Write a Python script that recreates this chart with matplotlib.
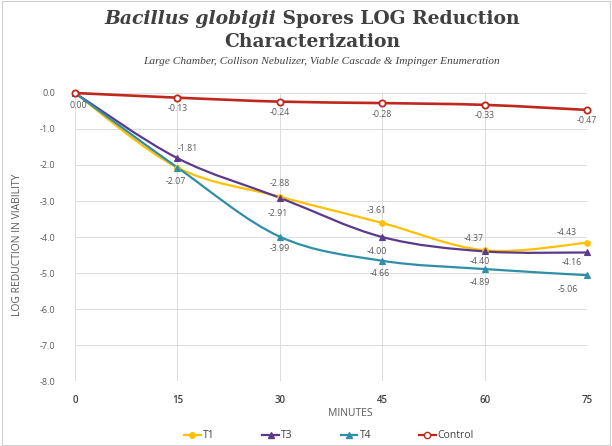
import numpy as np
import matplotlib
matplotlib.use("Agg")
import matplotlib.pyplot as plt
from matplotlib.path import Path
from matplotlib.patches import PathPatch, Rectangle
from matplotlib.lines import Line2D

minutes = [0, 15, 30, 45, 60, 75]
t1 = [0.00, -2.07, -2.88, -3.61, -4.37, -4.16]
t3 = [0.00, -1.81, -2.91, -4.00, -4.40, -4.43]
t4 = [0.00, -2.07, -3.99, -4.66, -4.89, -5.06]
control = [0.00, -0.13, -0.24, -0.28, -0.33, -0.47]

# label offsets in pixels (dx, dy); None = no label
t1_off = [None, None, (0, 13), (-6, 12), (-11, 12), (-15, -20)]
t3_off = [None, (10, 10), (-2, -16), (-5, -14), (-5, -10), (-20, 20)]
t4_off = [None, (-2, -14), (0, -12), (-2, -13), (-5, -13), (-19, -14)]
ctl_off = [(3, -13), (0, -11), (0, -11), (0, -11), (0, -11), (0, -11)]

colors = {"T1": "#FFC000", "T3": "#5B3A8C", "T4": "#2F8FA6", "Control": "#C0281E"}
SANS = ["Open Sans", "DejaVu Sans"]
SERIF = ["DejaVu Serif"]


def smooth_path(xs, ys):
    pts = np.column_stack([xs, ys]).astype(float)
    n = len(pts)
    verts = [pts[0]]
    codes = [Path.MOVETO]
    for i in range(n - 1):
        p0 = pts[max(i - 1, 0)]
        p1 = pts[i]
        p2 = pts[i + 1]
        p3 = pts[min(i + 2, n - 1)]
        c1 = p1 + (p2 - p0) / 6.0
        c2 = p2 - (p3 - p1) / 6.0
        verts += [c1, c2, p2]
        codes += [Path.CURVE4] * 3
    return Path(verts, codes)


fig = plt.figure(figsize=(6.12, 4.46), dpi=100)
fig.patches.append(Rectangle((0.003, 0.003), 0.994, 0.994, transform=fig.transFigure,
                             fill=False, edgecolor="#d0d0d0", linewidth=0.8))
ax = fig.add_axes([0.1225, 0.1457, 0.8366, 0.6458])

series = [
    ("T1", t1, "o", colors["T1"], colors["T1"], t1_off),
    ("T3", t3, "^", colors["T3"], colors["T3"], t3_off),
    ("T4", t4, "^", colors["T4"], colors["T4"], t4_off),
    ("Control", control, "o", "white", colors["Control"], ctl_off),
]

for name, vals, mk, fc, ec, offs in series:
    col = colors[name]
    lw = 1.9 if name == "Control" else 1.6
    ax.add_patch(PathPatch(smooth_path(minutes, vals), fill=False, edgecolor=col,
                           linewidth=lw, clip_on=False, zorder=3))
    ms = 4.5 if name == "Control" else 4
    ax.plot(minutes, vals, linestyle="none", marker=mk, markersize=ms,
            markerfacecolor=fc, markeredgecolor=ec, markeredgewidth=1.3 if name == "Control" else 0.8,
            clip_on=False, zorder=4)
    for x, y, off in zip(minutes, vals, offs):
        if off is None:
            continue
        ax.annotate(f"{y:.2f}", (x, y), xytext=off, textcoords="offset pixels",
                    ha="center", va="center", fontsize=6.3, color="#595959", family=SANS,
                    zorder=5)

ax.set_xlim(0, 75)
ax.set_ylim(-8, 0)
ax.set_xticks(minutes)
ax.set_yticks(np.arange(-8, 1, 1))
ax.set_yticklabels([f"{v:.1f}" for v in np.arange(-8, 1, 1)])
ax.grid(True, color="#dcdcdc", linewidth=0.7)
ax.set_axisbelow(True)
for s in ax.spines.values():
    s.set_visible(False)
ax.tick_params(length=0)
ax.tick_params(axis="y", labelsize=6.5, labelcolor="#595959", pad=14)
ax.tick_params(axis="x", labelsize=7, labelcolor="#404040", pad=10)
for lab in ax.get_xticklabels():
    lab.set_fontweight("semibold")
    lab.set_family(SANS)
for lab in ax.get_yticklabels():
    lab.set_family(SANS)

fig.text(18 / 612, 1 - 245 / 446, "LOG REDUCTION IN VIABILITY", rotation=90,
         ha="center", va="center", fontsize=7.5, color="#595959", family=SANS)
fig.text(350 / 612, 1 - 413 / 446, "MINUTES", ha="center", va="center",
         fontsize=7.5, color="#595959", family=SANS)

handles = [Line2D([], [], color=colors[n], marker=m, markersize=4 if n != "Control" else 4.5,
                  markerfacecolor=fc, markeredgecolor=ec, linewidth=1.6)
           for n, _, m, fc, ec, _ in series]
fig.legend(handles, [s[0] for s in series], loc="center", bbox_to_anchor=(329 / 612, 1 - 436 / 446),
           ncol=4, frameon=False, columnspacing=4.6, handlelength=1.6,
           handletextpad=0.2, prop={"family": SANS, "size": 7.5})
for t in fig.legends[0].get_texts():
    t.set_color("#404040")

# title, mixed italic / roman
fig.canvas.draw()
r = fig.canvas.get_renderer()
tc = "#404040"
ty = 1 - 19 / 446
a = fig.text(0, ty, "Bacillus globigii", fontsize=13.5, fontweight="bold", style="italic",
             color=tc, family=SERIF, va="center")
b = fig.text(0, ty, " Spores LOG Reduction", fontsize=13.5, fontweight="bold",
             color=tc, family=SERIF, va="center")
wa = a.get_window_extent(r).width
wb = b.get_window_extent(r).width
x0 = 312 - (wa + wb) / 2
a.set_x(x0 / 612)
b.set_x((x0 + wa) / 612)
fig.text(312 / 612, 1 - 42 / 446, "Characterization", fontsize=13.5, fontweight="bold",
         color=tc, family=SERIF, ha="center", va="center")
fig.text(322 / 612, 1 - 62 / 446,
         "Large Chamber, Collison Nebulizer, Viable Cascade & Impinger Enumeration",
         fontsize=8.2, style="italic", color="#404040", family=["Liberation Serif"],
         ha="center", va="center")

fig.savefig("out.png", dpi=100)
